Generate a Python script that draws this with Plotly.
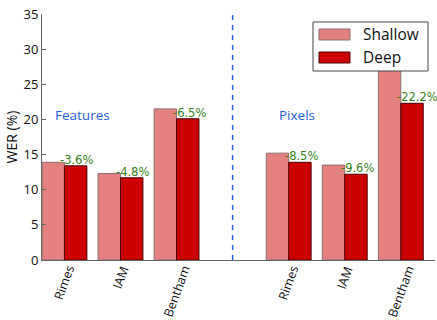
import plotly.graph_objects as go

# Word error rates (%) for the two model depths, feature-based and pixel-based systems
datasets = ["Rimes", "IAM", "Bentham", "Rimes", "IAM", "Bentham"]
positions = [0, 1, 2, 4, 5, 6]
shallow_wer = [13.9, 12.3, 21.5, 15.2, 13.5, 28.7]
deep_wer = [13.4, 11.7, 20.1, 13.9, 12.2, 22.3]
rel_change = ["-3.6%", "-4.8%", "-6.5%", "-8.5%", "-9.6%", "-22.2%"]
group_names = ["Features", "Pixels"]
group_label_x = [-0.2, 3.8]
group_label_y = 20.6
separator_x = 3

SHALLOW = "#e38080"
DEEP = "#cc0000"
GREEN = "#367f18"
BLUE = "#1f5fd8"
TEXT_FONT = "Open Sans"

fig = go.Figure()
fig.add_trace(go.Bar(
    x=positions, y=shallow_wer, name="Shallow",
    marker=dict(color=SHALLOW, line=dict(color="#8a7070", width=1)),
))
fig.add_trace(go.Bar(
    x=positions, y=deep_wer, name="Deep",
    marker=dict(color=DEEP, line=dict(color="#4a0000", width=1)),
))

# Relative change labels, just left of each deep bar
for xp, d, txt in zip(positions, deep_wer, rel_change):
    fig.add_annotation(
        x=xp, y=d, text=txt, showarrow=False, xanchor="left", yanchor="bottom",
        xshift=-6, yshift=-3, font=dict(family="DejaVu Sans", size=11.5, color=GREEN),
    )

# Dataset names under each pair of bars, rotated about their centre
for xp, name in zip(positions, datasets):
    fig.add_annotation(
        x=xp, y=0, xref="x", yref="paper", text=name, showarrow=False,
        textangle=-70, xanchor="center", yanchor="top", yshift=-1,
        font=dict(family=TEXT_FONT, size=12.5, color="#111"),
    )

# Group names
for gx, gname in zip(group_label_x, group_names):
    fig.add_annotation(
        x=gx, y=group_label_y, text=gname, showarrow=False, xanchor="left",
        yanchor="middle", font=dict(family=TEXT_FONT, size=13.5, color=BLUE),
    )

# Dashed separator between the two groups
fig.add_shape(type="line", x0=separator_x, x1=separator_x, y0=0, y1=35,
              xref="x", yref="y", line=dict(color=BLUE, width=1.5, dash="5px,5px"))

# Legend box drawn with shapes
fig.add_shape(type="rect", xref="paper", yref="paper", x0=0.6896, x1=0.9822,
              y0=0.7683, y1=0.9675, fillcolor="white", line=dict(color="#444", width=1),
              layer="above")
fig.add_shape(type="rect", xref="paper", yref="paper", x0=0.7048, x1=0.7837,
              y0=0.8943, y1=0.9390, fillcolor=SHALLOW, line=dict(color="#8a7070", width=1),
              layer="above")
fig.add_shape(type="rect", xref="paper", yref="paper", x0=0.7048, x1=0.7837,
              y0=0.8008, y1=0.8455, fillcolor=DEEP, line=dict(color="#4a0000", width=1),
              layer="above")
for ly, lname in [(0.9167, "Shallow"), (0.8252, "Deep")]:
    fig.add_annotation(x=0.8117, y=ly, xref="paper", yref="paper", text=lname,
                       showarrow=False, xanchor="left", yanchor="middle",
                       font=dict(family=TEXT_FONT, size=15.5, color="#111"))

fig.update_layout(
    width=437, height=320,
    margin=dict(l=42, r=2, t=14, b=60, autoexpand=False),
    plot_bgcolor="white", paper_bgcolor="white",
    barmode="group", bargap=0.2, bargroupgap=0,
    showlegend=False,
    font=dict(family=TEXT_FONT, size=12.5, color="#111"),
)
fig.update_xaxes(
    range=[-0.4, 6.61], showticklabels=False, showgrid=False, zeroline=False,
    showline=True, automargin=False, linecolor="#666", linewidth=1, ticks="",
)
fig.update_yaxes(
    range=[0, 35], dtick=5, showgrid=False, zeroline=False, showline=True,
    automargin=False,
    linecolor="#666", linewidth=1, ticks="inside", ticklen=4, tickcolor="#666",
    title=dict(text="WER (%)", font=dict(size=14), standoff=2),
    tickfont=dict(size=13),
)

fig.write_html("out.html")
